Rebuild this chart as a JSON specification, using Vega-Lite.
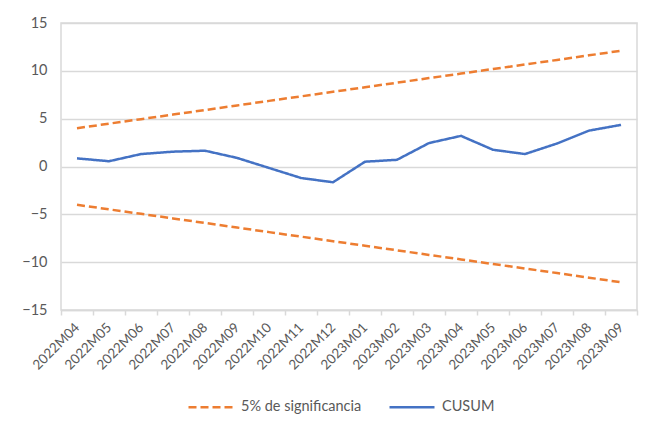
{
  "$schema": "https://vega.github.io/schema/vega-lite/v6.json",
  "width": 576,
  "height": 287,
  "autosize": {"type": "none"},
  "padding": {"left": 61, "top": 23, "right": 23, "bottom": 117},
  "background": "white",
  "config": {
    "font": "Lato",
    "view": {"stroke": "#D9D9D9", "strokeWidth": 1.5},
    "axis": {"labelColor": "#595959", "labelFont": "Lato", "labelFontSize": 13, "titleColor": "#595959"}
  },
  "data": {
    "values": [
      {"month": "2022M04", "line": "upper", "series": "5% de significancia", "value": 4.0},
      {"month": "2022M05", "line": "upper", "series": "5% de significancia", "value": 4.48},
      {"month": "2022M06", "line": "upper", "series": "5% de significancia", "value": 4.95},
      {"month": "2022M07", "line": "upper", "series": "5% de significancia", "value": 5.43},
      {"month": "2022M08", "line": "upper", "series": "5% de significancia", "value": 5.9},
      {"month": "2022M09", "line": "upper", "series": "5% de significancia", "value": 6.38},
      {"month": "2022M10", "line": "upper", "series": "5% de significancia", "value": 6.86},
      {"month": "2022M11", "line": "upper", "series": "5% de significancia", "value": 7.33},
      {"month": "2022M12", "line": "upper", "series": "5% de significancia", "value": 7.81},
      {"month": "2023M01", "line": "upper", "series": "5% de significancia", "value": 8.28},
      {"month": "2023M02", "line": "upper", "series": "5% de significancia", "value": 8.76},
      {"month": "2023M03", "line": "upper", "series": "5% de significancia", "value": 9.24},
      {"month": "2023M04", "line": "upper", "series": "5% de significancia", "value": 9.71},
      {"month": "2023M05", "line": "upper", "series": "5% de significancia", "value": 10.19},
      {"month": "2023M06", "line": "upper", "series": "5% de significancia", "value": 10.66},
      {"month": "2023M07", "line": "upper", "series": "5% de significancia", "value": 11.14},
      {"month": "2023M08", "line": "upper", "series": "5% de significancia", "value": 11.62},
      {"month": "2023M09", "line": "upper", "series": "5% de significancia", "value": 12.1},
      {"month": "2022M04", "line": "lower", "series": "5% de significancia", "value": -4.0},
      {"month": "2022M05", "line": "lower", "series": "5% de significancia", "value": -4.48},
      {"month": "2022M06", "line": "lower", "series": "5% de significancia", "value": -4.95},
      {"month": "2022M07", "line": "lower", "series": "5% de significancia", "value": -5.43},
      {"month": "2022M08", "line": "lower", "series": "5% de significancia", "value": -5.9},
      {"month": "2022M09", "line": "lower", "series": "5% de significancia", "value": -6.38},
      {"month": "2022M10", "line": "lower", "series": "5% de significancia", "value": -6.86},
      {"month": "2022M11", "line": "lower", "series": "5% de significancia", "value": -7.33},
      {"month": "2022M12", "line": "lower", "series": "5% de significancia", "value": -7.81},
      {"month": "2023M01", "line": "lower", "series": "5% de significancia", "value": -8.28},
      {"month": "2023M02", "line": "lower", "series": "5% de significancia", "value": -8.76},
      {"month": "2023M03", "line": "lower", "series": "5% de significancia", "value": -9.24},
      {"month": "2023M04", "line": "lower", "series": "5% de significancia", "value": -9.71},
      {"month": "2023M05", "line": "lower", "series": "5% de significancia", "value": -10.19},
      {"month": "2023M06", "line": "lower", "series": "5% de significancia", "value": -10.66},
      {"month": "2023M07", "line": "lower", "series": "5% de significancia", "value": -11.14},
      {"month": "2023M08", "line": "lower", "series": "5% de significancia", "value": -11.62},
      {"month": "2023M09", "line": "lower", "series": "5% de significancia", "value": -12.1},
      {"month": "2022M04", "line": "cusum", "series": "CUSUM", "value": 0.85},
      {"month": "2022M05", "line": "cusum", "series": "CUSUM", "value": 0.55},
      {"month": "2022M06", "line": "cusum", "series": "CUSUM", "value": 1.3},
      {"month": "2022M07", "line": "cusum", "series": "CUSUM", "value": 1.55},
      {"month": "2022M08", "line": "cusum", "series": "CUSUM", "value": 1.65},
      {"month": "2022M09", "line": "cusum", "series": "CUSUM", "value": 0.9},
      {"month": "2022M10", "line": "cusum", "series": "CUSUM", "value": -0.15},
      {"month": "2022M11", "line": "cusum", "series": "CUSUM", "value": -1.2},
      {"month": "2022M12", "line": "cusum", "series": "CUSUM", "value": -1.65},
      {"month": "2023M01", "line": "cusum", "series": "CUSUM", "value": 0.5},
      {"month": "2023M02", "line": "cusum", "series": "CUSUM", "value": 0.7},
      {"month": "2023M03", "line": "cusum", "series": "CUSUM", "value": 2.45},
      {"month": "2023M04", "line": "cusum", "series": "CUSUM", "value": 3.2},
      {"month": "2023M05", "line": "cusum", "series": "CUSUM", "value": 1.75},
      {"month": "2023M06", "line": "cusum", "series": "CUSUM", "value": 1.3},
      {"month": "2023M07", "line": "cusum", "series": "CUSUM", "value": 2.4},
      {"month": "2023M08", "line": "cusum", "series": "CUSUM", "value": 3.75},
      {"month": "2023M09", "line": "cusum", "series": "CUSUM", "value": 4.35}
    ]
  },
  "mark": {"type": "line", "strokeWidth": 2.5},
  "encoding": {
    "x": {
      "field": "month",
      "type": "ordinal",
      "sort": null,
      "scale": {"paddingInner": 0, "paddingOuter": 0},
      "axis": {
        "title": null,
        "labelAngle": -45,
        "labelAlign": "right",
        "labelBaseline": "middle",
        "labelPadding": 10,
        "labelFontSize": 13.5,
        "tickBand": "extent",
        "ticks": true,
        "tickColor": "#D9D9D9",
        "tickSize": 5,
        "tickWidth": 1.5,
        "domainColor": "#D9D9D9",
        "domainWidth": 1.5,
        "grid": false
      }
    },
    "y": {
      "field": "value",
      "type": "quantitative",
      "scale": {"domain": [-15, 15], "nice": false},
      "axis": {
        "title": null,
        "values": [-15, -10, -5, 0, 5, 10, 15],
        "ticks": false,
        "domain": false,
        "labelPadding": 14,
        "labelFontSize": 14.5,
        "grid": true,
        "gridColor": "#D9D9D9",
        "gridWidth": 1.5
      }
    },
    "color": {
      "field": "series",
      "type": "nominal",
      "scale": {"domain": ["5% de significancia", "CUSUM"], "range": ["#ED7D31", "#4472C4"]},
      "legend": {
        "title": null,
        "orient": "none",
        "legendX": 126,
        "legendY": 360,
        "direction": "horizontal",
        "symbolType": "stroke",
        "symbolSize": 2025,
        "symbolStrokeWidth": 2.5,
        "labelFontSize": 14.5,
        "labelColor": "#595959",
        "labelFont": "Lato",
        "labelOffset": 6,
        "columnPadding": 22
      }
    },
    "strokeDash": {
      "field": "series",
      "type": "nominal",
      "scale": {"domain": ["5% de significancia", "CUSUM"], "range": [[8, 4], [1, 0]]},
      "legend": {
        "title": null,
        "orient": "none",
        "legendX": 126,
        "legendY": 360,
        "direction": "horizontal",
        "symbolType": "stroke",
        "symbolSize": 2025,
        "symbolStrokeWidth": 2.5,
        "labelFontSize": 14.5,
        "labelColor": "#595959",
        "labelFont": "Lato",
        "labelOffset": 6,
        "columnPadding": 22
      }
    },
    "detail": {"field": "line", "type": "nominal"}
  }
}
